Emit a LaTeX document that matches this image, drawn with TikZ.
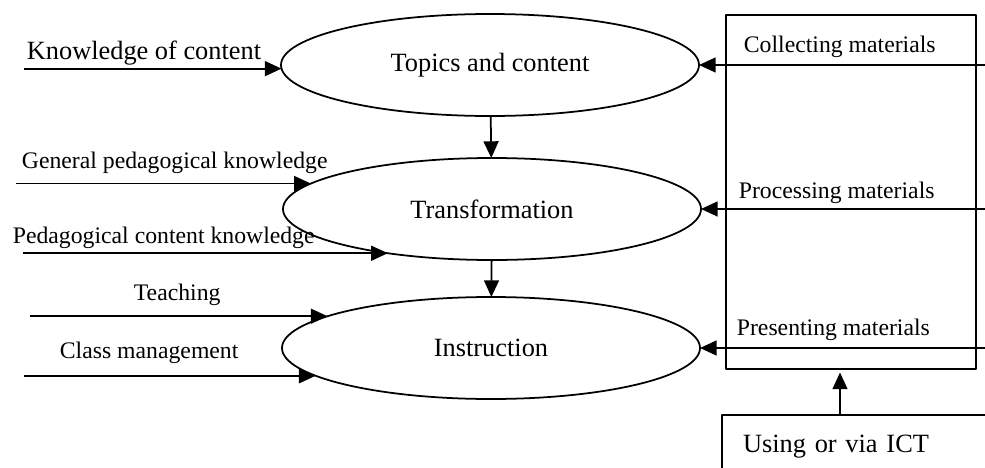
\documentclass[tikz,border=0pt]{standalone}
\usepackage{fontspec}
\setmainfont{Liberation Serif}
\usetikzlibrary{arrows.meta,shapes.geometric}
\begin{document}
\begin{tikzpicture}[x=0.2mm, y=-0.2mm, line width=1pt, line join=round, >={Triangle[length=9.5pt,width=8.5pt]},
	stage/.style={draw, ellipse, minimum width=8.36cm, minimum height=2.04cm, inner sep=0pt, outer sep=0pt, font=\fontsize{15}{18}\selectfont},
	lbl/.style={anchor=base west, inner sep=0pt, font=\fontsize{13.5}{16}\selectfont},
	biglbl/.style={lbl, font=\fontsize{15}{18}\selectfont}]
	\useasboundingbox (0,0) rectangle (985,468);
	\clip (0,0) rectangle (985,468);
	% the three stages
	\node[stage] (topics) at (490,65) {Topics and content};
	\node[stage] (transf) at (492,209) {Transformation};
	\node[stage] (instr) at (491,348) {Instruction};
	\draw[->] (topics) -- (transf);
	\draw[->] (transf) -- (instr);
	% materials box, fed by ICT
	\node[draw, anchor=north west, minimum width=5cm, minimum height=7.08cm, inner sep=0pt, outer sep=0pt] (mat) at (726,15) {};
	\node[draw, anchor=north west, outer sep=0pt, inner xsep=4.2mm, inner ysep=0pt, text width=5.16cm, minimum height=1.28cm, align=left, font=\fontsize{15}{18}\selectfont] (ict) at (722,415) {Using or via ICT};
	\draw[->, shorten >=2pt] (ict.north -| 840,0) -- (mat.south -| 840,0);
	% inputs from the left
	\draw[->] (topics.181 -| 24,0) -- (topics.181);
	\draw[->] (transf.172 -| 16,0) -- (transf.172);
	\draw[->] (transf.203 -| 23,0) -- (transf.203);
	\draw[->] (instr.169 -| 30,0) -- (instr.169);
	\draw[->] (instr.189 -| 24,0) -- (instr.189);
	% inputs from the right
	\draw[->] (topics.east -| 990,0) -- (topics.east);
	\draw[->] (transf.east -| 990,0) -- (transf.east);
	\draw[->] (instr.east -| 990,0) -- (instr.east);
	% labels
	\node[biglbl] (koc) at (26,59) {Knowledge of content};
	\node[lbl] (gpk) at (21,168) {General pedagogical knowledge};
	\node[lbl] (pck) at (12,243) {Pedagogical content knowledge};
	\node[lbl] (teach) at (133,300) {Teaching};
	\node[lbl] (cm) at (59,358) {Class management};
	\node[lbl] (col) at (743,52) {Collecting materials};
	\node[lbl] (proc) at (738,198) {Processing materials};
	\node[lbl] (pres) at (736,335) {Presenting materials};
\end{tikzpicture}
\end{document}
